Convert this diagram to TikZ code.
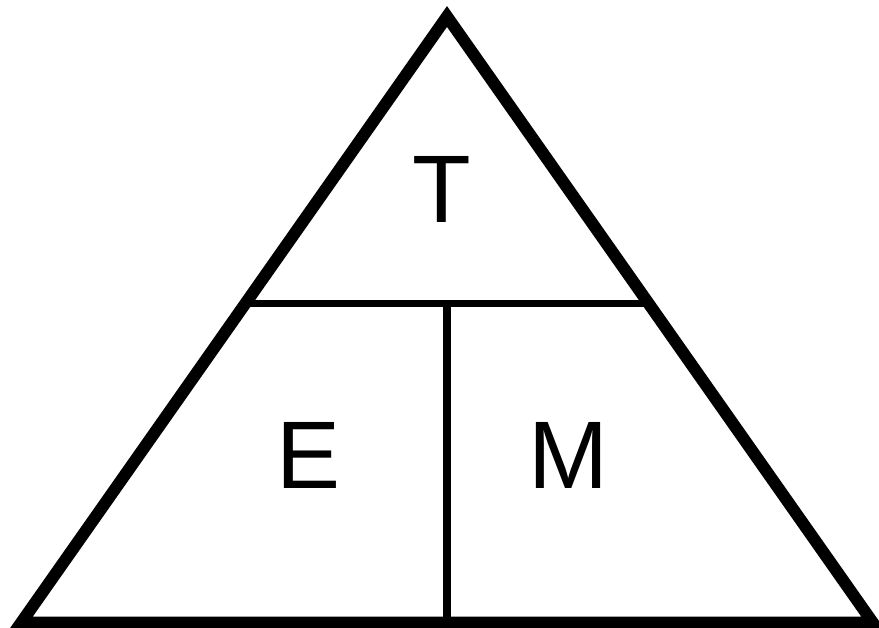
\documentclass[tikz,border=0pt]{standalone}
\usepackage{fontspec}
\setmainfont{Liberation Sans}
\usetikzlibrary{calc}
\begin{document}
\begin{tikzpicture}[x=1pt,y=-1pt,
  outerline/.style={line width=12pt,line join=miter,miter limit=10},
  innerline/.style={line width=7.5pt},
  letter/.style={inner sep=0pt,anchor=base,font=\fontsize{96}{100}\selectfont}]
\useasboundingbox (0,0) rectangle (879,628);
\coordinate (A) at (447,16.5);
\coordinate (B) at (21.3,622.5);
\coordinate (C) at (872.7,622.5);
\coordinate (L) at ($(A)!0.4736!(B)$);
\coordinate (R) at ($(A)!0.4736!(C)$);
\coordinate (Mid) at ($(L)!0.5!(R)$);
\coordinate (Bot) at ($(B)!0.5!(C)$);
\draw[innerline] (L) -- (R);
\draw[innerline] (Mid) -- (Bot);
\draw[outerline] (A) -- (B) -- (C) -- cycle;
\node[letter] (t) at (442,223) {T};
\node[letter] (e) at (309,489) {E};
\node[letter] (m) at (568.5,489) {M};
\end{tikzpicture}
\end{document}
